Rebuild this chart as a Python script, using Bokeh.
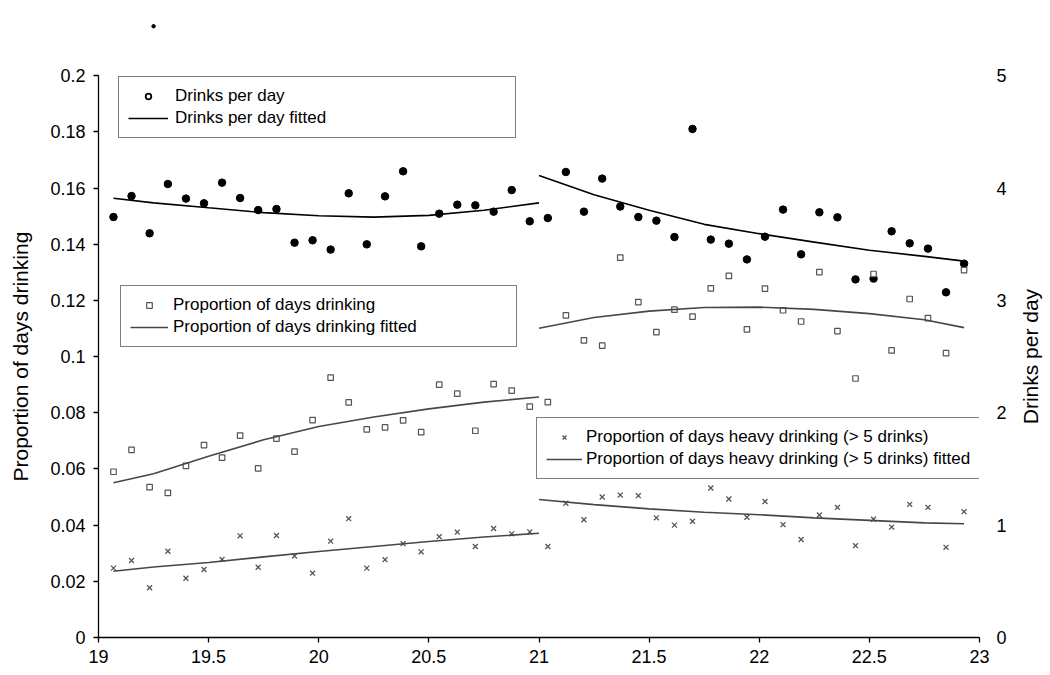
import math
from bokeh.plotting import figure
from bokeh.layouts import row
from bokeh.models import (Range1d, LinearAxis, FixedTicker, CustomJSTickFormatter,
                          Legend, LegendItem)
from bokeh.core.properties import value
from bokeh.embed import file_html
from bokeh.resources import INLINE

# ---------------- data ----------------
ages = [19.068, 19.150, 19.232, 19.315, 19.397, 19.479, 19.561, 19.643,
        19.725, 19.808, 19.890, 19.972, 20.054, 20.136, 20.218, 20.301,
        20.383, 20.465, 20.547, 20.629, 20.711, 20.794, 20.876, 20.958,
        21.040, 21.122, 21.204, 21.287, 21.369, 21.451, 21.533, 21.615,
        21.697, 21.780, 21.862, 21.944, 22.026, 22.108, 22.190, 22.273,
        22.355, 22.437, 22.519, 22.601, 22.683, 22.766, 22.848, 22.930]

drinks_per_day = [3.742, 3.929, 3.597, 4.036, 3.906, 3.864, 4.048, 3.911,
                  3.804, 3.813, 3.514, 3.535, 3.452, 3.953, 3.499, 3.926,
                  4.149, 3.481, 3.772, 3.852, 3.846, 3.790, 3.982, 3.704,
                  3.733, 4.143, 3.790, 4.084, 3.835, 3.742, 3.710, 3.564,
                  4.526, 3.541, 3.505, 3.365, 3.567, 3.808, 3.410, 3.784,
                  3.739, 3.187, 3.194, 3.615, 3.508, 3.461, 3.072, 3.327]

prop_days_drinking = [0.0590, 0.0668, 0.0535, 0.0515, 0.0611, 0.0685, 0.0640, 0.0719,
                      0.0602, 0.0708, 0.0662, 0.0774, 0.0925, 0.0837, 0.0741, 0.0748,
                      0.0773, 0.0731, 0.0900, 0.0868, 0.0736, 0.0902, 0.0879, 0.0822,
                      0.0838, 0.1147, 0.1058, 0.1039, 0.1352, 0.1194, 0.1087, 0.1167,
                      0.1142, 0.1243, 0.1287, 0.1097, 0.1242, 0.1165, 0.1125, 0.1301,
                      0.1091, 0.0922, 0.1294, 0.1022, 0.1205, 0.1137, 0.1012, 0.1308]

prop_heavy = [0.0247, 0.0274, 0.0177, 0.0307, 0.0211, 0.0242, 0.0278, 0.0362,
              0.0250, 0.0363, 0.0290, 0.0229, 0.0343, 0.0423, 0.0247, 0.0277,
              0.0334, 0.0305, 0.0359, 0.0375, 0.0324, 0.0388, 0.0369, 0.0376,
              0.0324, 0.0478, 0.0419, 0.0500, 0.0507, 0.0505, 0.0426, 0.0400,
              0.0414, 0.0532, 0.0493, 0.0428, 0.0484, 0.0402, 0.0349, 0.0436,
              0.0463, 0.0327, 0.0421, 0.0393, 0.0474, 0.0463, 0.0321, 0.0448]

fit_ages_before = [19.068, 19.25, 19.5, 19.75, 20.0, 20.25, 20.5, 20.75, 21.0]
fit_ages_after = [21.0, 21.25, 21.5, 21.75, 22.0, 22.25, 22.5, 22.75, 22.93]

drinks_fit_before = [3.909, 3.868, 3.824, 3.781, 3.753, 3.741, 3.757, 3.802, 3.868]
drinks_fit_after = [4.111, 3.941, 3.802, 3.677, 3.594, 3.519, 3.446, 3.392, 3.350]

days_fit_before = [0.0551, 0.0583, 0.0645, 0.0704, 0.0751, 0.0785, 0.0814, 0.0838, 0.0856]
days_fit_after = [0.1101, 0.1139, 0.1162, 0.1175, 0.1176, 0.1168, 0.1153, 0.1131, 0.1103]

heavy_fit_before = [0.0236, 0.0251, 0.0267, 0.0287, 0.0306, 0.0324, 0.0342, 0.0358, 0.0371]
heavy_fit_after = [0.0491, 0.0473, 0.0458, 0.0446, 0.0437, 0.0426, 0.0417, 0.0408, 0.0405]

stray_age = [19.25]
stray_drinks = [5.44]

x_ticks = [19, 19.5, 20, 20.5, 21, 21.5, 22, 22.5, 23]
left_ticks = [0, 0.02, 0.04, 0.06, 0.08, 0.1, 0.12, 0.14, 0.16, 0.18, 0.2]
right_ticks = [0, 1, 2, 3, 4, 5]

left_title = "Proportion of days drinking"
right_title = "Drinks per day"

# ---------------- styling ----------------
FONT = "Liberation Sans"
GRAY = "#555555"
LINE_GRAY = "#474747"
TOP, BOTTOM, FRAME_H = 19, 38, 618

y_left = Range1d(0, 0.22)
y_right = Range1d(0, 5.5)

p = figure(frame_width=881, frame_height=FRAME_H,
           x_range=Range1d(19, 23), y_range=y_left,
           output_backend="svg", toolbar_location=None,
           min_border_left=58, min_border_right=32,
           min_border_top=TOP, min_border_bottom=BOTTOM)
p.extra_y_ranges = {"drinks": y_right}
p.grid.visible = False
p.outline_line_color = None
p.background_fill_color = "white"
p.border_fill_color = "white"

fmt = CustomJSTickFormatter(code="return String(Math.round(tick*100)/100);")

xa = p.xaxis[0]
xa.ticker = FixedTicker(ticks=x_ticks)
xa.formatter = fmt
xa.major_tick_in = 0
xa.major_tick_out = 5
xa.minor_tick_line_color = None
xa.major_label_standoff = 7
xa.major_label_text_font = FONT
xa.major_label_text_font_size = "18px"
xa.major_label_text_color = "black"
xa.axis_line_color = "black"
xa.axis_line_width = 1.3
xa.major_tick_line_width = 1.3

ya = p.yaxis[0]
ya.ticker = FixedTicker(ticks=left_ticks)
ya.formatter = fmt
ya.bounds = (left_ticks[0], left_ticks[-1])
ya.major_tick_in = 0
ya.major_tick_out = 5
ya.minor_tick_line_color = None
ya.major_label_standoff = 8
ya.major_label_text_font = FONT
ya.major_label_text_font_size = "18px"
ya.major_label_text_color = "black"
ya.axis_line_width = 1.3
ya.major_tick_line_width = 1.3

ra = LinearAxis(y_range_name="drinks", ticker=FixedTicker(ticks=right_ticks), formatter=fmt)
ra.axis_line_color = None
ra.major_tick_line_color = None
ra.minor_tick_line_color = None
ra.major_tick_in = 0
ra.major_tick_out = 0
ra.major_label_standoff = 17
ra.major_label_text_font = FONT
ra.major_label_text_font_size = "18px"
ra.major_label_text_color = "black"
p.add_layout(ra, "right")

# ---------------- glyphs ----------------
p.scatter(ages, drinks_per_day, y_range_name="drinks", marker="circle",
          size=7.5, fill_color="black", line_color="black")
p.scatter(stray_age, stray_drinks, y_range_name="drinks", marker="circle",
          size=3.5, fill_color="black", line_color="black")
r_sq = p.scatter(ages, prop_days_drinking, marker="square", size=5.5,
                 fill_color="white", line_color=GRAY, line_width=1.2)
r_x = p.scatter(ages, prop_heavy, marker="x", size=7,
                line_color=GRAY, line_width=1.3)

r_dfit = p.line(fit_ages_before, drinks_fit_before, y_range_name="drinks",
                line_color="black", line_width=1.6)
p.line(fit_ages_after, drinks_fit_after, y_range_name="drinks",
       line_color="black", line_width=1.6)
r_pfit = p.line(fit_ages_before, days_fit_before, line_color=LINE_GRAY, line_width=1.6)
p.line(fit_ages_after, days_fit_after, line_color=LINE_GRAY, line_width=1.6)
r_hfit = p.line(fit_ages_before, heavy_fit_before, line_color=LINE_GRAY, line_width=1.6)
p.line(fit_ages_after, heavy_fit_after, line_color=LINE_GRAY, line_width=1.6)

# legend-only sample marker (ring style as in the reference legend), not drawn in the frame
leg_dot = p.scatter(x=[stray_age[0]], y=[float("nan")], marker="circle", fill_color="white",
                    line_color="black", line_width=1.8)


def make_legend(items, loc, glyph_w, standoff, label_w):
    return Legend(items=items, location=loc, padding=9, spacing=2, margin=0,
                  glyph_width=glyph_w, glyph_height=14, label_height=19,
                  label_width=label_w, label_standoff=standoff,
                  label_text_font=FONT, label_text_font_size="17px",
                  label_text_color="black",
                  border_line_color="black", border_line_width=1.3,
                  background_fill_color="white", background_fill_alpha=1.0)


lg1 = make_legend([LegendItem(label="Drinks per day", renderers=[leg_dot]),
                   LegendItem(label="Drinks per day fitted", renderers=[r_dfit])],
                  (20, 499), 40, 7, 331)
lg2 = make_legend([LegendItem(label="Proportion of days drinking", renderers=[r_sq]),
                   LegendItem(label="Proportion of days drinking fitted", renderers=[r_pfit])],
                  (22, 290), 38, 5, 334)
lg3 = make_legend([LegendItem(label="Proportion of days heavy drinking (> 5 drinks)", renderers=[r_x]),
                   LegendItem(label="Proportion of days heavy drinking (> 5 drinks) fitted", renderers=[r_hfit])],
                  (438, 158), 36, 4, 20)
for lg in (lg1, lg2, lg3):
    p.add_layout(lg)


# ---------------- side strips carrying the axis titles (reading bottom-to-top) ----------------
def title_strip(width, y_range, y_mid, text):
    s = figure(frame_width=width, frame_height=FRAME_H, x_range=Range1d(0, 1), y_range=y_range,
               x_axis_type=None, y_axis_type=None,
               output_backend="svg", toolbar_location=None,
               min_border_left=0, min_border_right=0,
               min_border_top=TOP, min_border_bottom=BOTTOM)
    s.outline_line_color = None
    s.background_fill_color = "white"
    s.border_fill_color = "white"
    s.text(x=[0.5], y=[y_mid], text=[text], angle=math.pi / 2,
           text_align="center", text_baseline="middle",
           text_font=value(FONT), text_font_size=value("21px"), text_color="black")
    return s


p_left = title_strip(40, y_left, (left_ticks[0] + left_ticks[-1]) / 2, left_title)
p_right = title_strip(38, y_right, (right_ticks[0] + right_ticks[-1]) / 2, right_title)

layout = row(p_left, p, p_right, spacing=0)

open("out.html", "w").write(file_html(layout, INLINE))
